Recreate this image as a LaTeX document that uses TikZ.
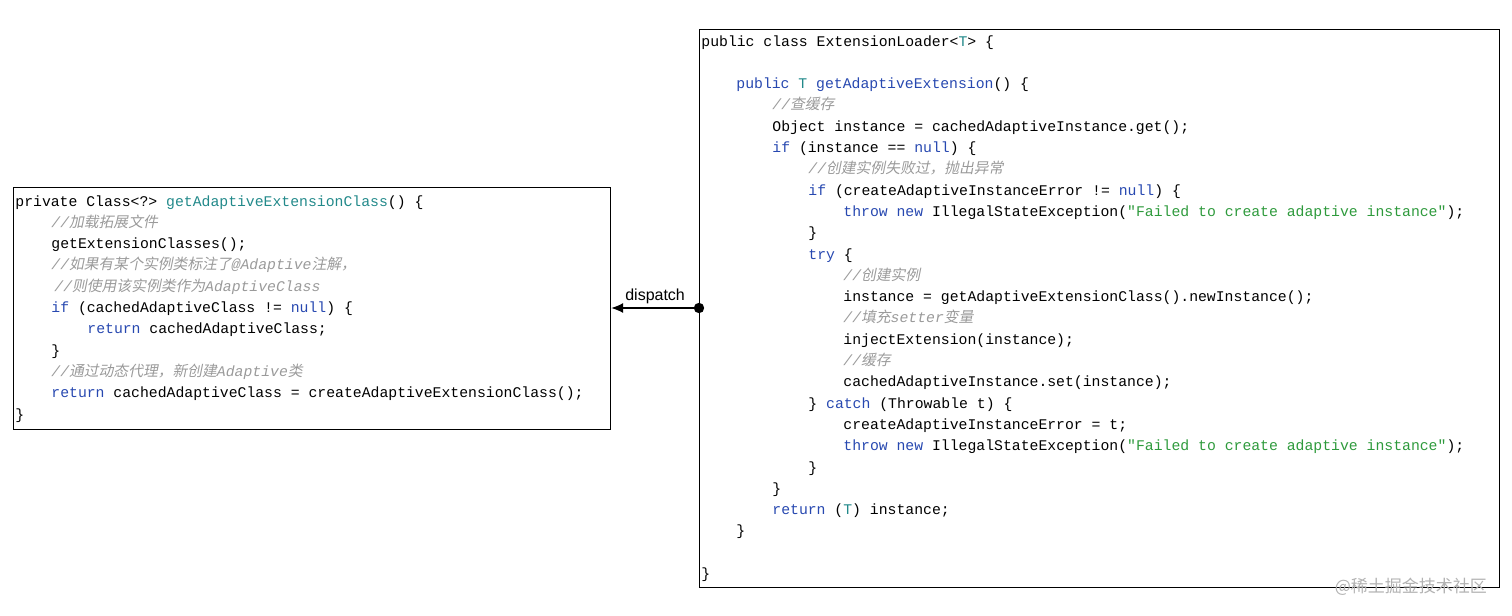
\documentclass[tikz,border=0pt]{standalone}
\usepackage{fontspec}
\usetikzlibrary{arrows.meta}
\setmainfont{Liberation Sans}
\newfontfamily\codef{Liberation Mono}
\newfontfamily\cjk[FakeSlant=0.2]{Noto Sans CJK SC}
\newfontfamily\cjkup{Noto Sans CJK SC}
\definecolor{kw}{HTML}{2748B0}
\definecolor{ty}{HTML}{22898A}
\definecolor{st}{HTML}{2E9A3C}
\definecolor{cmc}{HTML}{9A9A9A}
\newcommand{\kw}[1]{\textcolor{kw}{#1}}
\newcommand{\ty}[1]{\textcolor{ty}{#1}}
\newcommand{\stq}[1]{\textcolor{st}{#1}}
\newcommand{\cmt}[1]{\textcolor{cmc}{\itshape #1}}
\newcommand{\cj}[1]{{\cjk #1}}
\begin{document}
\begin{tikzpicture}[x=0.5pt,y=-0.5pt,
  code/.style={anchor=base west,inner sep=0,font=\codef\fontsize{7.39}{8}\selectfont},
  box/.style={draw,line width=0.6pt}]
\useasboundingbox (0,0) rectangle (1512,616);
\node[box,minimum width=298.5pt,minimum height=121pt,anchor=north west] (L) at (13,187) {};
\node[box,minimum width=400pt,minimum height=279pt,anchor=north west] (R) at (699,29) {};
% left code
\def\ly#1{201+21.3*#1+5}
\node[code] (l0) at (15,{\ly0}) {private Class<?> \ty{getAdaptiveExtensionClass}() \{};
\node[code] (l1) at (51,{\ly1}) {\cmt{//\cj{加载拓展文件}}};
\node[code] (l2) at (51,{\ly2}) {getExtensionClasses();};
\node[code] (l3) at (51,{\ly3}) {\cmt{//\cj{如果有某个实例类标注了}@Adaptive\cj{注解，}}};
\node[code] (l4) at (54,{\ly4}) {\cmt{//\cj{则使用该实例类作为}AdaptiveClass}};
\node[code] (l5) at (51,{\ly5}) {\kw{if} (cachedAdaptiveClass != \kw{null}) \{};
\node[code] (l6) at (87,{\ly6}) {\kw{return} cachedAdaptiveClass;};
\node[code] (l7) at (51,{\ly7}) {\}};
\node[code] (l8) at (51,{\ly8}) {\cmt{//\cj{通过动态代理，新创建}Adaptive\cj{类}}};
\node[code] (l9) at (51,{\ly9}) {\kw{return} cachedAdaptiveClass = createAdaptiveExtensionClass();};
\node[code] (l10) at (15,{\ly{10}}) {\}};
% right code
\def\ry#1{41+21.3*#1+5}
\def\a{701}\def\b{736}\def\c{772}\def\d{808}\def\e{843}
\node[code] (r0) at (\a,{\ry0}) {public class ExtensionLoader<\ty{T}> \{};
\node[code] (r2) at (\b,{\ry2}) {\kw{public} \ty{T} \kw{getAdaptiveExtension}() \{};
\node[code] (r3) at (\c,{\ry3}) {\cmt{//\cj{查缓存}}};
\node[code] (r4) at (\c,{\ry4}) {Object instance = cachedAdaptiveInstance.get();};
\node[code] (r5) at (\c,{\ry5}) {\kw{if} (instance == \kw{null}) \{};
\node[code] (r6) at (\d,{\ry6}) {\cmt{//\cj{创建实例失败过，抛出异常}}};
\node[code] (r7) at (\d,{\ry7}) {\kw{if} (createAdaptiveInstanceError != \kw{null}) \{};
\node[code] (r8) at (\e,{\ry8}) {\kw{throw} \kw{new} IllegalStateException(\stq{"Failed to create adaptive instance"});};
\node[code] (r9) at (\d,{\ry9}) {\}};
\node[code] (r10) at (\d,{\ry{10}}) {\kw{try} \{};
\node[code] (r11) at (\e,{\ry{11}}) {\cmt{//\cj{创建实例}}};
\node[code] (r12) at (\e,{\ry{12}}) {instance = getAdaptiveExtensionClass().newInstance();};
\node[code] (r13) at (\e,{\ry{13}}) {\cmt{//\cj{填充}setter\cj{变量}}};
\node[code] (r14) at (\e,{\ry{14}}) {injectExtension(instance);};
\node[code] (r15) at (\e,{\ry{15}}) {\cmt{//\cj{缓存}}};
\node[code] (r16) at (\e,{\ry{16}}) {cachedAdaptiveInstance.set(instance);};
\node[code] (r17) at (\d,{\ry{17}}) {\} \kw{catch} (Throwable t) \{};
\node[code] (r18) at (\e,{\ry{18}}) {createAdaptiveInstanceError = t;};
\node[code] (r19) at (\e,{\ry{19}}) {\kw{throw} \kw{new} IllegalStateException(\stq{"Failed to create adaptive instance"});};
\node[code] (r20) at (\d,{\ry{20}}) {\}};
\node[code] (r21) at (\c,{\ry{21}}) {\}};
\node[code] (r22) at (\c,{\ry{22}}) {\kw{return} (\ty{T}) instance;};
\node[code] (r23) at (\b,{\ry{23}}) {\}};
\node[code] (r25) at (\a,{\ry{25}}) {\}};
% connector
\coordinate (s) at (R.west |- 0,308);
\coordinate (t) at (L.east |- 0,308);
\fill (s) circle (2.6pt);
\draw[-{Latex[length=6pt,width=5pt]},line width=0.6pt] (s) -- node[above,font=\fontsize{8}{9}\selectfont,inner sep=2pt] {dispatch} (t);
\node[anchor=east,text=black!30,font=\cjkup\fontsize{8.5}{9}\selectfont] (wm) at (1494,587) {@稀土掘金技术社区};
\end{tikzpicture}
\end{document}
